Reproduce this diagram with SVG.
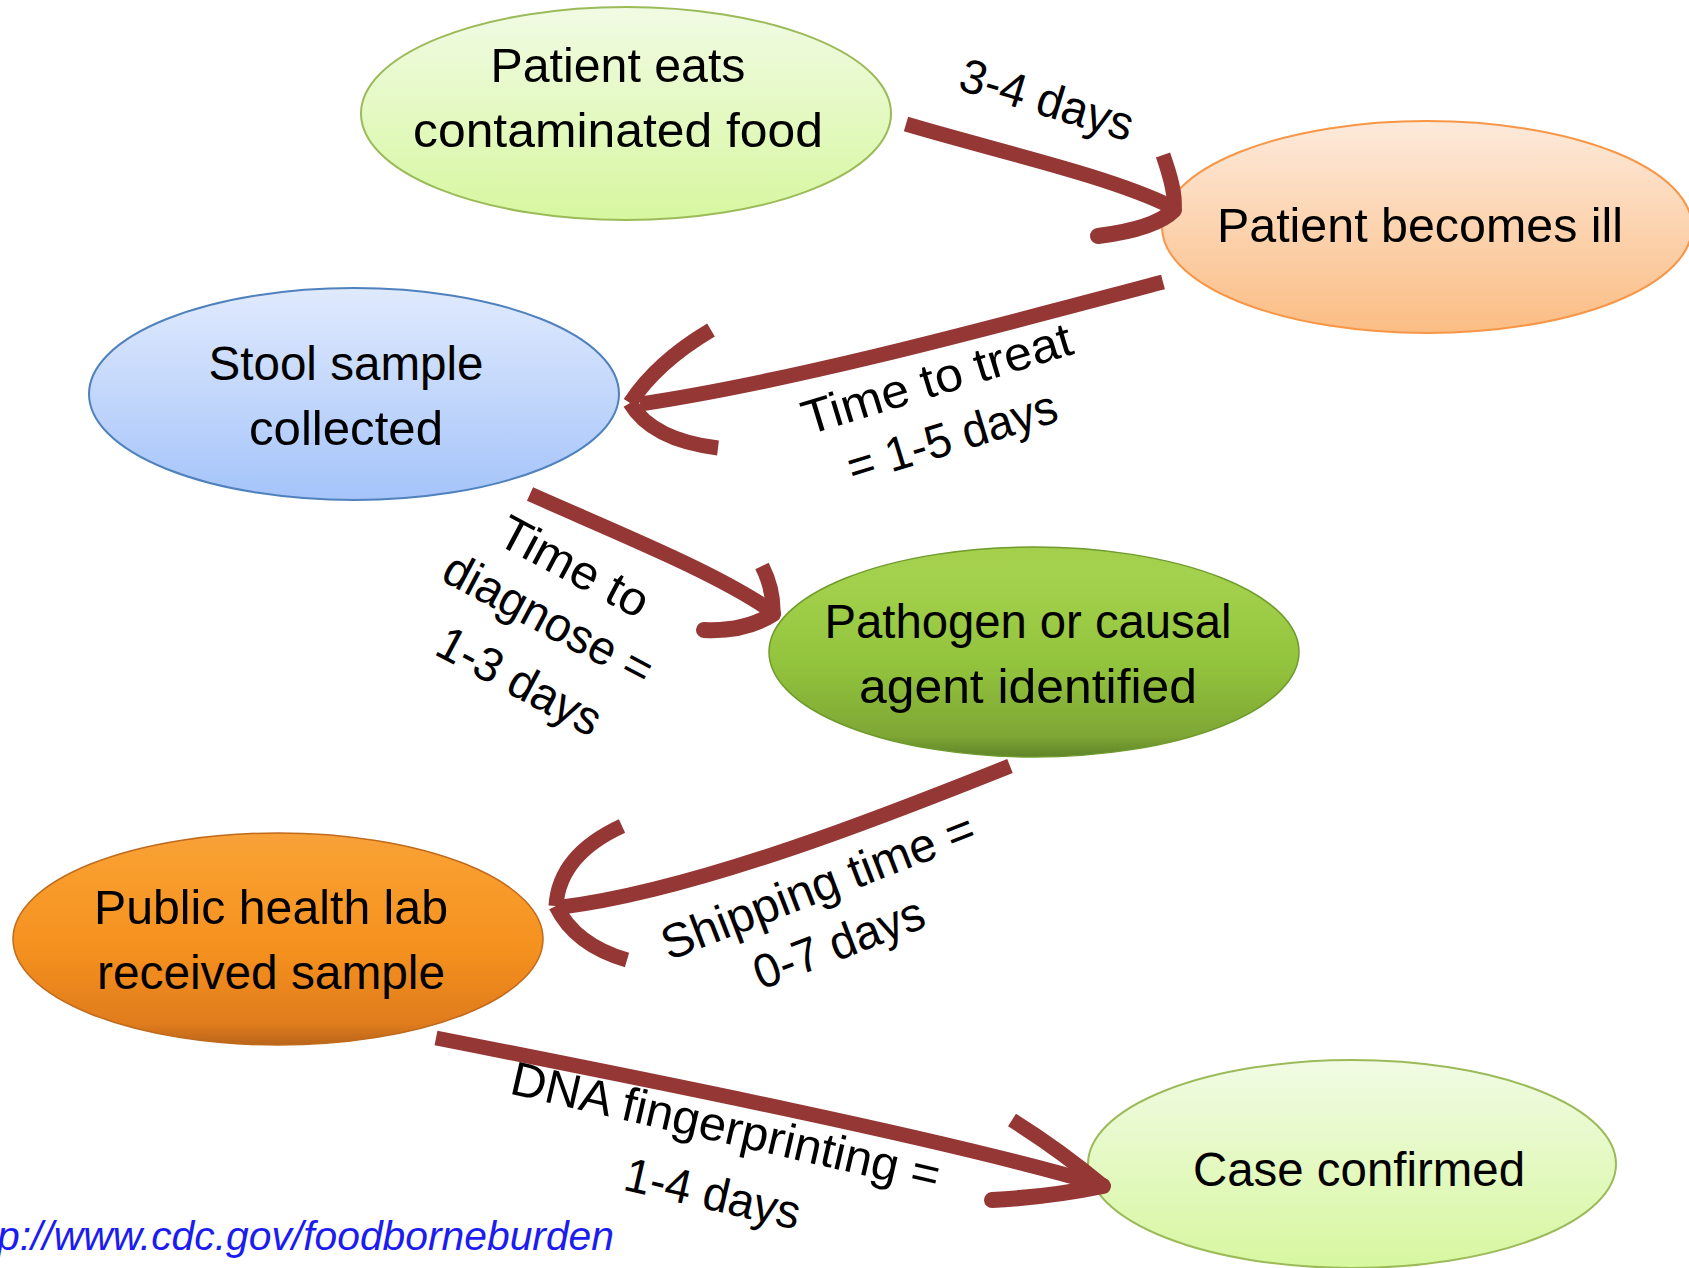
<svg xmlns="http://www.w3.org/2000/svg" width="1689" height="1268" viewBox="0 0 1689 1268">
<defs>
<linearGradient id="gLight" x1="0" y1="0" x2="0" y2="1">
<stop offset="0" stop-color="#f1fbe4"/><stop offset="1" stop-color="#d7f7a0"/>
</linearGradient>
<linearGradient id="gPeach" x1="0" y1="0" x2="0" y2="1">
<stop offset="0" stop-color="#fdeadb"/><stop offset="1" stop-color="#fbbd84"/>
</linearGradient>
<linearGradient id="gBlue" x1="0" y1="0" x2="0" y2="1">
<stop offset="0" stop-color="#e0eafd"/><stop offset="1" stop-color="#a5c4fa"/>
</linearGradient>
<linearGradient id="gGreen" x1="0" y1="0" x2="0" y2="1">
<stop offset="0" stop-color="#a3cf4c"/><stop offset="0.12" stop-color="#a5d24e"/><stop offset="0.55" stop-color="#93c43d"/><stop offset="0.9" stop-color="#7ea735"/><stop offset="1" stop-color="#5f8427"/>
</linearGradient>
<linearGradient id="gOrange" x1="0" y1="0" x2="0" y2="1">
<stop offset="0" stop-color="#f7a13a"/><stop offset="0.12" stop-color="#f99f30"/><stop offset="0.55" stop-color="#f5911e"/><stop offset="0.9" stop-color="#e07c1c"/><stop offset="1" stop-color="#b9651b"/>
</linearGradient>
</defs>
<style>
.t{font-family:"Liberation Sans",Arial,sans-serif;font-size:48px;fill:#000;text-anchor:middle}
.sh{fill:none;stroke:#953735;stroke-width:15;stroke-linecap:butt}
.hd{fill:none;stroke:#953735;stroke-width:15;stroke-linecap:butt;stroke-linejoin:round}
.hr{fill:none;stroke:#953735;stroke-width:16;stroke-linecap:round;stroke-linejoin:round}
.url{font-family:"Liberation Sans",Arial,sans-serif;font-size:40px;font-style:italic;fill:#1c1cf0}
</style>

<g id="node-eats">
<ellipse cx="626" cy="113.5" rx="265" ry="106.5" fill="url(#gLight)" stroke="#9bbb59" stroke-width="2"/>
<text class="t" x="618" y="82" textLength="255" lengthAdjust="spacingAndGlyphs">Patient eats</text>
<text class="t" x="618" y="147" textLength="410" lengthAdjust="spacingAndGlyphs">contaminated food</text>
</g>

<g id="node-ill">
<ellipse cx="1427" cy="227" rx="265" ry="106" fill="url(#gPeach)" stroke="#f79646" stroke-width="2"/>
<text class="t" x="1420" y="242" textLength="406" lengthAdjust="spacingAndGlyphs">Patient becomes ill</text>
</g>

<g id="node-stool">
<ellipse cx="354" cy="394" rx="265" ry="106" fill="url(#gBlue)" stroke="#4f81bd" stroke-width="2"/>
<text class="t" x="346" y="380" textLength="275" lengthAdjust="spacingAndGlyphs">Stool sample</text>
<text class="t" x="346" y="445" textLength="194" lengthAdjust="spacingAndGlyphs">collected</text>
</g>

<g id="node-pathogen">
<ellipse cx="1034" cy="652" rx="265" ry="105" fill="url(#gGreen)" stroke="#6f9a2c" stroke-width="1.5"/>
<text class="t" x="1028" y="638" textLength="407" lengthAdjust="spacingAndGlyphs">Pathogen or causal</text>
<text class="t" x="1028" y="703" textLength="338" lengthAdjust="spacingAndGlyphs">agent identified</text>
</g>

<g id="node-lab">
<ellipse cx="278" cy="939" rx="265" ry="106" fill="url(#gOrange)" stroke="#c06a1c" stroke-width="1.5"/>
<text class="t" x="271" y="924" textLength="354" lengthAdjust="spacingAndGlyphs">Public health lab</text>
<text class="t" x="271" y="989" textLength="348" lengthAdjust="spacingAndGlyphs">received sample</text>
</g>

<g id="node-confirmed">
<ellipse cx="1352" cy="1164" rx="264" ry="104" fill="url(#gLight)" stroke="#9bbb59" stroke-width="2"/>
<text class="t" x="1359" y="1186" textLength="332" lengthAdjust="spacingAndGlyphs">Case confirmed</text>
</g>

<g id="connectors">
<path class="sh" d="M906,124 C1000,152 1110,176 1172,207"/>
<path class="hd" d="M1163,155 C1170,175 1176,195 1174,210"/>
<path class="hr" d="M1174,210 C1160,224 1130,232 1098,236"/>

<path class="sh" d="M1163,282 C1000,325 800,380 640,404"/>
<path class="hd" d="M711,330 Q657,362 630,403"/>
<path class="hd" d="M630,403 Q652,440 718,448"/>

<path class="sh" d="M530,494 C620,534 715,572 770,610"/>
<path class="hd" d="M762,566 Q774,590 773,614"/>
<path class="hr" d="M773,614 Q745,632 704,630"/>

<path class="sh" d="M1010,766 C900,810 700,890 562,907"/>
<path class="hd" d="M622,826 Q559,855 556,906"/>
<path class="hd" d="M556,906 Q575,945 627,960"/>

<path class="sh" d="M436,1038 C650,1080 950,1140 1098,1184"/>
<path class="hd" d="M1012,1120 Q1060,1150 1103,1186"/>
<path class="hr" d="M1103,1186 Q1050,1197 992,1200"/>
</g>

<g id="labels">
<g transform="translate(1046,103) rotate(17)"><text class="t" x="0" y="13" textLength="179" lengthAdjust="spacingAndGlyphs">3-4 days</text></g>
<g transform="translate(937,379) rotate(-17)"><text class="t" x="0" y="16" textLength="280" lengthAdjust="spacingAndGlyphs">Time to treat</text></g>
<g transform="translate(953,440) rotate(-17)"><text class="t" x="0" y="13" textLength="217" lengthAdjust="spacingAndGlyphs">= 1-5 days</text></g>
<g transform="translate(574,567) rotate(28)"><text class="t" x="0" y="16" textLength="163" lengthAdjust="spacingAndGlyphs">Time to</text></g>
<g transform="translate(547,622) rotate(28)"><text class="t" x="0" y="13" textLength="230" lengthAdjust="spacingAndGlyphs">diagnose =</text></g>
<g transform="translate(518,684) rotate(28)"><text class="t" x="0" y="13" textLength="179" lengthAdjust="spacingAndGlyphs">1-3 days</text></g>
<g transform="translate(819,889) rotate(-21)"><text class="t" x="0" y="13" textLength="332" lengthAdjust="spacingAndGlyphs">Shipping time =</text></g>
<g transform="translate(840,946) rotate(-21)"><text class="t" x="0" y="13" textLength="179" lengthAdjust="spacingAndGlyphs">0-7 days</text></g>
<g transform="translate(725,1130) rotate(13)"><text class="t" x="0" y="13" textLength="439" lengthAdjust="spacingAndGlyphs">DNA fingerprinting =</text></g>
<g transform="translate(712,1197) rotate(13)"><text class="t" x="0" y="13" textLength="179" lengthAdjust="spacingAndGlyphs">1-4 days</text></g>
</g>

<text class="url" x="-3" y="1250" textLength="617" lengthAdjust="spacingAndGlyphs">p://www.cdc.gov/foodborneburden</text>
</svg>
